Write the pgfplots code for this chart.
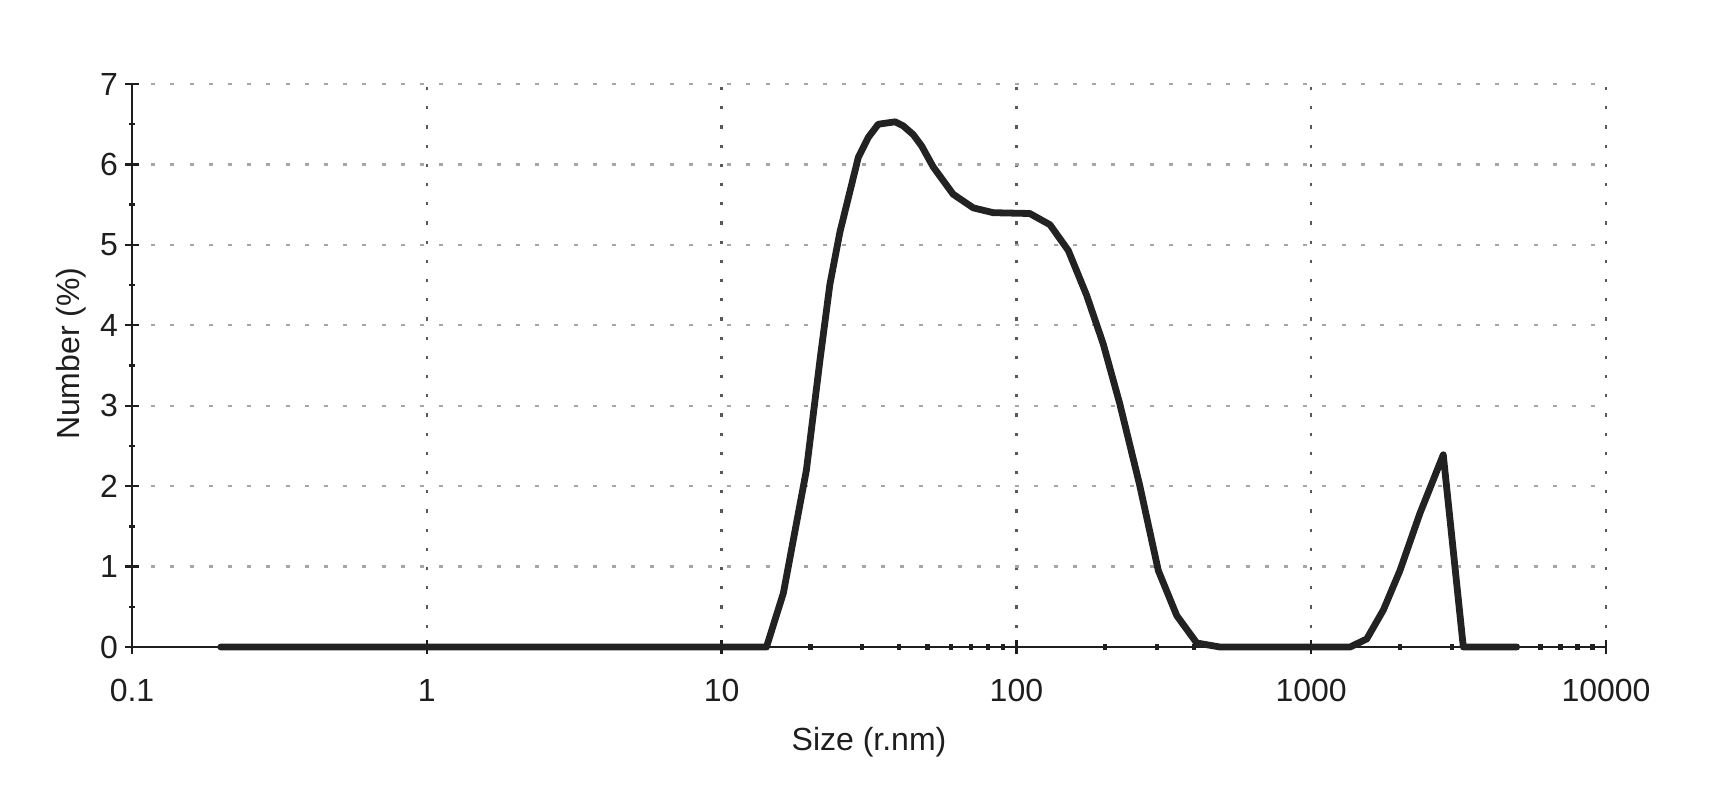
\documentclass[border=0pt]{standalone}
\usepackage{pgfplots}
\pgfplotsset{compat=1.18}
\usepackage{fontspec}
\setmainfont{Liberation Sans}
\definecolor{curve}{HTML}{222222}
\definecolor{txt}{HTML}{1E1E1E}

\begin{document}
\begin{tikzpicture}
\useasboundingbox (-66pt,-81.5pt) rectangle (790.5pt,323.5pt);
\begin{axis}[
    at={(0,0)}, anchor=south west,
    scale only axis,
    width=737pt, height=281.5pt,
    xmode=log,
    xmin=0.1, xmax=10000,
    ymin=0, ymax=7,
    axis x line=bottom, axis y line=left,
    axis line style={-, line width=1.3pt, txt},
    xtick={0.1,1,10,100,1000,10000},
    xticklabels={0.1,1,10,100,1000,10000},
    minor xtick={0.2,0.3,0.4,0.5,0.6,0.7,0.8,0.9,2,3,4,5,6,7,8,9,20,30,40,50,60,70,80,90,200,300,400,500,600,700,800,900,2000,3000,4000,5000,6000,7000,8000,9000},
    ytick={0,1,...,7},
    yticklabels={0,1,2,3,4,5,6,7},
    minor ytick={0.5,1.5,...,6.5},
    tick align=center,
    major tick length=7pt,
    minor tick length=3pt,
    every tick/.style={txt, line width=1.2pt},
    minor x tick style={line width=2.2pt},
    minor y tick style={line width=1.2pt},
    xmajorgrids, ymajorgrids,
    major x grid style={dash pattern=on 1.6pt off 8pt, line width=1.2pt, black!65},
    major y grid style={dash pattern=on 2pt off 7.6pt, line width=1.2pt, black!35},
    tick label style={font=\fontsize{16}{19}\selectfont, txt},
    xticklabel style={yshift=-9pt},
    xlabel={Size (r.nm)},
    ylabel={Number (\%)},
    label style={font=\fontsize{16}{19}\selectfont, txt},
    xlabel style={at={(axis description cs:0.5,-0.17)}, anchor=center},
    ylabel style={at={(axis description cs:-0.0414,0.521)}, anchor=center, rotate=0},
    clip=false,
]
\addplot[curve, line width=3.4pt, line join=round, line cap=round] coordinates {
(0.2,0) (14.2,0) (16.2,0.67) (19.4,2.2) (21.6,3.59) (23.3,4.51) (25.2,5.16)
(29.1,6.09) (31.5,6.34) (34,6.5) (38.8,6.53) (41.3,6.48) (44.7,6.37) (47.7,6.23)
(52.2,5.97) (61,5.63) (71.4,5.46) (83.5,5.40) (111,5.39) (130,5.25) (150,4.93)
(173,4.375) (197,3.77) (224,3.03) (262,2.01) (303,0.95) (350,0.39) (409,0.05)
(490,0) (1355,0) (1543,0.1) (1757,0.46) (2000,0.95) (2337,1.66) (2805,2.39)
(3281,0) (4980,0)
};
\end{axis}
\end{tikzpicture}
\end{document}
